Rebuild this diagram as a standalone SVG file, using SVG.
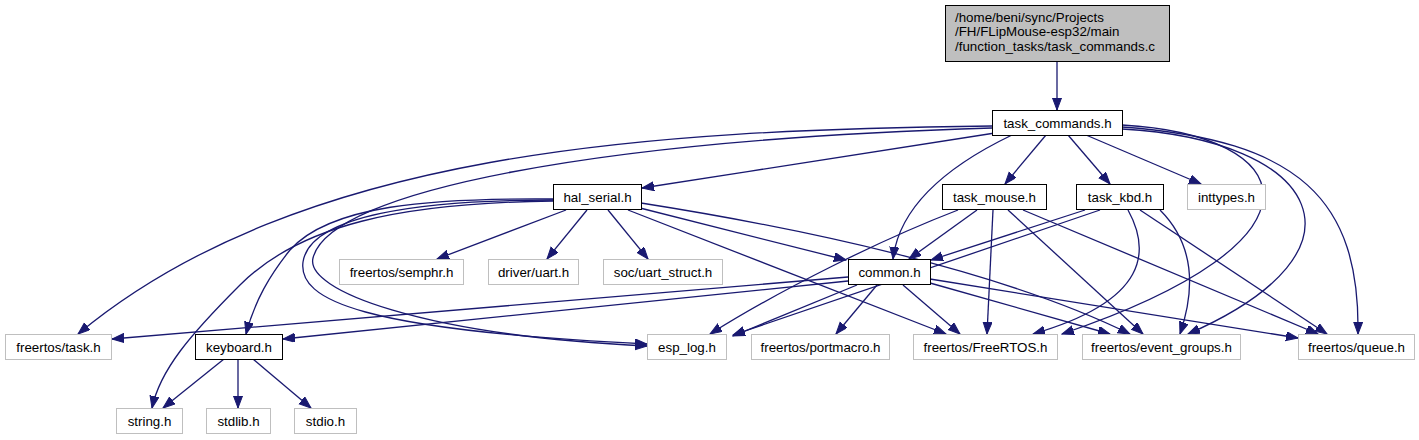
<svg xmlns="http://www.w3.org/2000/svg" width="1419" height="440" viewBox="0 0 1419 440">
<style>
  .n rect { fill: #ffffff; stroke: #000000; stroke-width: 1; }
  .x rect { fill: #ffffff; stroke: #bfbfbf; stroke-width: 1; }
  .r rect { fill: #bfbfbf; stroke: #000000; stroke-width: 1; }
  text { font-family: "Liberation Sans", Arial, sans-serif; font-size: 13.33px; fill: #000000; }
  .c { text-anchor: middle; }
  #edges path { fill: none; stroke: #191970; stroke-width: 1.3; marker-end: url(#ah); }
</style>
<defs>
  <marker id="ah" markerUnits="userSpaceOnUse" markerWidth="13" markerHeight="10" refX="12" refY="4.5" orient="auto">
    <path d="M0,0 L12,4.5 L0,9 z" fill="#191970" stroke="#191970" stroke-width="1"/>
  </marker>
</defs>
<rect width="1419" height="440" fill="#ffffff"/>
<g id="edges">
  <path d="M1057,61 L1057,110"/>
  <path d="M995,133 C 880,150 760,170 642,188"/>
  <path d="M1046,135 L1005,184"/>
  <path d="M1068,135 L1110,184"/>
  <path d="M1086,135 L1201,184"/>
  <path d="M1012,135 C 960,160 900,200 893,259"/>
  <path d="M992,126 C 650,130 300,150 78,334"/>
  <path d="M992,128 C 600,140 330,190 313,258 C 305,290 420,335 647,346"/>
  <path d="M553,200 C 420,200 310,215 303,262 C 298,300 360,330 647,344"/>
  <path d="M553,199 C 430,198 330,205 290,250 C 270,275 255,300 246,334"/>
  <path d="M553,201 C 400,203 300,225 240,285 C 190,335 160,370 152,408"/>
  <path d="M566,210 L437,259"/>
  <path d="M587,210 L547,259"/>
  <path d="M608,210 L648,259"/>
  <path d="M640,208 L846,260"/>
  <path d="M628,210 L946,334"/>
  <path d="M641,203 C 800,228 1000,270 1130,334"/>
  <path d="M977,210 L909,259"/>
  <path d="M958,210 C 880,240 780,290 710,334"/>
  <path d="M993,210 L987,334"/>
  <path d="M1008,210 L1143,334"/>
  <path d="M1023,210 L1318,334"/>
  <path d="M1085,210 L931,260"/>
  <path d="M1100,210 L733,335"/>
  <path d="M1128,210 C 1150,250 1150,300 1033,334"/>
  <path d="M1160,210 C 1195,245 1195,290 1180,334"/>
  <path d="M1140,210 L1327,334"/>
  <path d="M1122,125 C 1300,135 1340,240 1062,334"/>
  <path d="M1122,129 C 1320,140 1380,250 1188,334"/>
  <path d="M1122,127 C 1300,140 1360,200 1358,334"/>
  <path d="M848,277 L112,339"/>
  <path d="M848,281 L283,339"/>
  <path d="M857,285 L733,336"/>
  <path d="M877,285 L836,334"/>
  <path d="M903,285 L960,334"/>
  <path d="M930,283 L1110,334"/>
  <path d="M930,279 L1298,338"/>
  <path d="M224,359 L163,408"/>
  <path d="M238,359 L238,408"/>
  <path d="M253,359 L311,408"/>
</g>
<g id="node_task_commands_c" class="r">
  <rect x="945.5" y="5.5" width="224" height="56"/>
  <text x="955" y="22">/home/beni/sync/Projects</text>
  <text x="955" y="36">/FH/FLipMouse-esp32/main</text>
  <text x="955" y="51">/function_tasks/task_commands.c</text>
</g>
<g id="node_task_commands_h" class="n">
  <rect x="992.5" y="110.5" width="130" height="25"/>
  <text class="c" x="1057.5" y="127.5">task_commands.h</text>
</g>
<g id="node_hal_serial_h" class="n">
  <rect x="553.5" y="184.5" width="88" height="25"/>
  <text class="c" x="597.5" y="201.5">hal_serial.h</text>
</g>
<g id="node_task_mouse_h" class="n">
  <rect x="942.5" y="184.5" width="104" height="25"/>
  <text class="c" x="994.5" y="201.5">task_mouse.h</text>
</g>
<g id="node_task_kbd_h" class="n">
  <rect x="1076.5" y="184.5" width="87" height="25"/>
  <text class="c" x="1120" y="201.5">task_kbd.h</text>
</g>
<g id="node_inttypes_h" class="x">
  <rect x="1187.5" y="184.5" width="78" height="25"/>
  <text class="c" x="1226.5" y="201.5">inttypes.h</text>
</g>
<g id="node_common_h" class="n">
  <rect x="848.5" y="259.5" width="82" height="25"/>
  <text class="c" x="889.5" y="276.5">common.h</text>
</g>
<g id="node_semphr_h" class="x">
  <rect x="339.5" y="259.5" width="124" height="25"/>
  <text class="c" x="401.5" y="276.5">freertos/semphr.h</text>
</g>
<g id="node_uart_h" class="x">
  <rect x="488.5" y="259.5" width="90" height="25"/>
  <text class="c" x="533.5" y="276.5">driver/uart.h</text>
</g>
<g id="node_uart_struct_h" class="x">
  <rect x="603.5" y="259.5" width="119" height="25"/>
  <text class="c" x="663" y="276.5">soc/uart_struct.h</text>
</g>
<g id="node_task_h" class="x">
  <rect x="5.5" y="334.5" width="106" height="25"/>
  <text class="c" x="58.5" y="351.5">freertos/task.h</text>
</g>
<g id="node_keyboard_h" class="n">
  <rect x="195.5" y="334.5" width="87" height="25"/>
  <text class="c" x="239" y="351.5">keyboard.h</text>
</g>
<g id="node_esp_log_h" class="x">
  <rect x="647.5" y="334.5" width="79" height="25"/>
  <text class="c" x="687" y="351.5">esp_log.h</text>
</g>
<g id="node_portmacro_h" class="x">
  <rect x="751.5" y="334.5" width="138" height="25"/>
  <text class="c" x="820.5" y="351.5">freertos/portmacro.h</text>
</g>
<g id="node_freertos_h" class="x">
  <rect x="913.5" y="334.5" width="144" height="25"/>
  <text class="c" x="985.5" y="351.5">freertos/FreeRTOS.h</text>
</g>
<g id="node_event_groups_h" class="x">
  <rect x="1082.5" y="334.5" width="158" height="25"/>
  <text class="c" x="1161.5" y="351.5">freertos/event_groups.h</text>
</g>
<g id="node_queue_h" class="x">
  <rect x="1298.5" y="334.5" width="116" height="25"/>
  <text class="c" x="1356.5" y="351.5">freertos/queue.h</text>
</g>
<g id="node_string_h" class="x">
  <rect x="116.5" y="408.5" width="66" height="25"/>
  <text class="c" x="149.5" y="425.5">string.h</text>
</g>
<g id="node_stdlib_h" class="x">
  <rect x="206.5" y="408.5" width="64" height="25"/>
  <text class="c" x="238.5" y="425.5">stdlib.h</text>
</g>
<g id="node_stdio_h" class="x">
  <rect x="294.5" y="408.5" width="62" height="25"/>
  <text class="c" x="325.5" y="425.5">stdio.h</text>
</g>
</svg>
